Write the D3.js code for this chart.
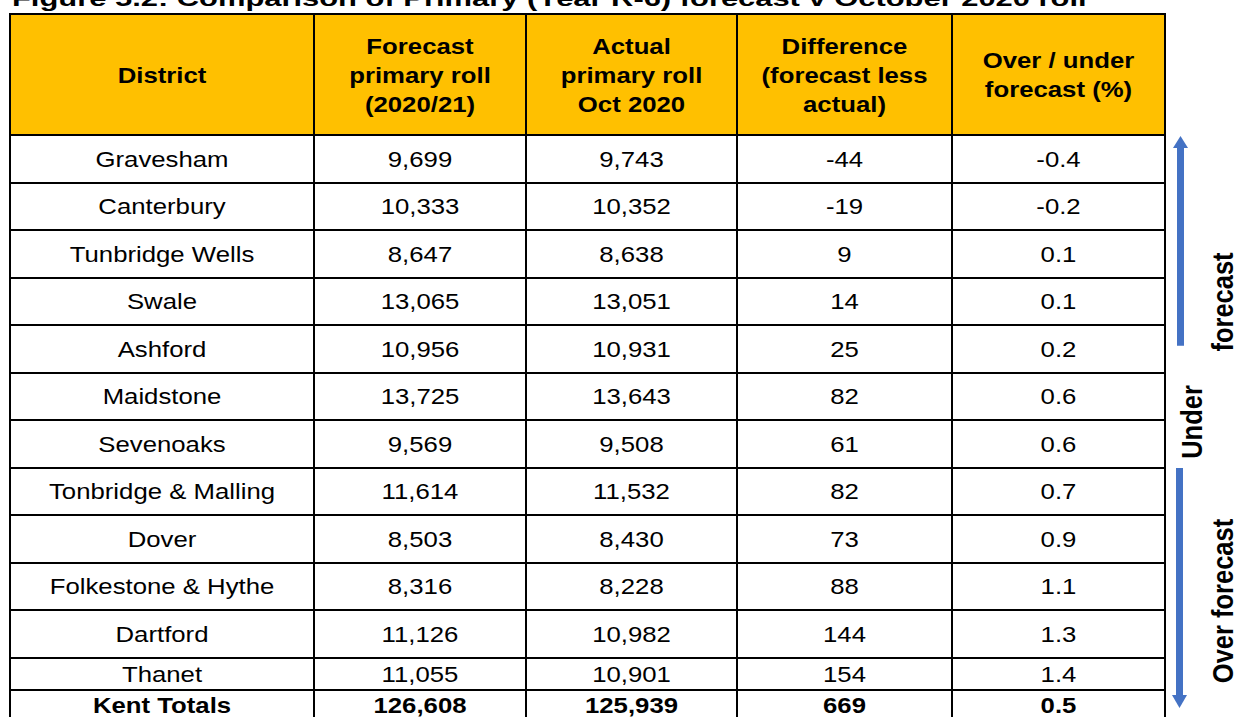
<!DOCTYPE html>
<html>
<head>
<title>Primary forecast v October 2020 roll</title>
<style>
body { margin: 0; background: #fff; }
text { font-family: "Liberation Sans", Arial, sans-serif; fill: #000; }
.grid line { stroke: #000; stroke-width: 2; shape-rendering: crispEdges; }
.head text { font-weight: bold; font-size: 22px; }
.body text { font-size: 22px; }
.body text.total { font-weight: bold; }
.side text { font-weight: bold; font-size: 25.5px; }
</style>
</head>
<body>
<script src="https://cdn.jsdelivr.net/npm/d3@7"></script>
<div id="chart"></div>
<script>
var title = "Figure 5.2: Comparison of Primary (Year R-6) forecast v October 2020 roll";
var headers = [
    ["District"],
    ["Forecast", "primary roll", "(2020/21)"],
    ["Actual", "primary roll", "Oct 2020"],
    ["Difference", "(forecast less", "actual)"],
    ["Over / under", "forecast (%)"]
];
var districts = ["Gravesham", "Canterbury", "Tunbridge Wells", "Swale", "Ashford", "Maidstone",
    "Sevenoaks", "Tonbridge & Malling", "Dover", "Folkestone & Hythe", "Dartford", "Thanet"];
var forecast = [9699, 10333, 8647, 13065, 10956, 13725, 9569, 11614, 8503, 8316, 11126, 11055];
var actual = [9743, 10352, 8638, 13051, 10931, 13643, 9508, 11532, 8430, 8228, 10982, 10901];
var difference = [-44, -19, 9, 14, 25, 82, 61, 82, 73, 88, 144, 154];
var overUnder = ["-0.4", "-0.2", "0.1", "0.1", "0.2", "0.6", "0.6", "0.7", "0.9", "1.1", "1.3", "1.4"];
var totals = ["Kent Totals", 126608, 125939, 669, "0.5"];
var sideLabels = ["forecast", "Under", "Over forecast"];

(function() {
    var W = 1239, H = 717;
    var colEdges = [10, 314, 526, 737, 952, 1165];
    var headTop = 14, headBottom = 135;
    var rowH = 47.5, thanetH = 32.5, totalH = 30;
    var sx = 1.17;  // source text is drawn wider than natural
    var fmt = d3.format(",");

    var rows = districts.map(function(d, i) {
        return [d, fmt(forecast[i]), fmt(actual[i]), String(difference[i]), overUnder[i]];
    });
    rows.push([totals[0], fmt(totals[1]), fmt(totals[2]), String(totals[3]), totals[4]]);

    // row boundaries
    var tops = [headBottom];
    rows.forEach(function(r, i) {
        var h = i < 11 ? rowH : (i === 11 ? thanetH : totalH);
        tops.push(tops[i] + h);
    });
    function rowMid(i) { return (tops[i] + tops[i + 1]) / 2; }
    var colMid = colEdges.slice(0, -1).map(function(x, i) { return (x + colEdges[i + 1]) / 2; });

    var svg = d3.select("#chart").append("svg")
        .attr("width", W).attr("height", H);

    // title
    var t = svg.append("text")
        .attr("font-weight", "bold")
        .attr("font-size", "22px")
        .text(title);
    var tw = t.node().getComputedTextLength();
    t.attr("transform", "translate(12,6) scale(" + (1075 / tw) + ",1)");

    // header fill
    svg.append("rect")
        .attr("x", colEdges[0]).attr("y", headTop)
        .attr("width", colEdges[5] - colEdges[0]).attr("height", headBottom - headTop)
        .attr("fill", "#FFC000");

    // header text
    var ghead = svg.append("g").attr("class", "head");
    headers.forEach(function(lines, c) {
        var lh = 29;
        var y0 = (headTop + headBottom) / 2 - (lines.length - 1) * lh / 2 + 8;
        lines.forEach(function(s, k) {
            ghead.append("text")
                .attr("text-anchor", "middle")
                .attr("transform", "translate(" + colMid[c] + "," + (y0 + k * lh) + ") scale(" + sx + ",1)")
                .text(s);
        });
    });

    // body
    var gbody = svg.append("g").attr("class", "body");
    rows.forEach(function(r, i) {
        r.forEach(function(s, c) {
            gbody.append("text")
                .attr("class", i === rows.length - 1 ? "total" : null)
                .attr("text-anchor", "middle")
                .attr("transform", "translate(" + colMid[c] + "," + (rowMid(i) + 8) + ") scale(" + sx + ",1)")
                .text(s);
        });
    });

    // grid
    var ggrid = svg.append("g").attr("class", "grid");
    var bottom = tops[tops.length - 1];
    colEdges.forEach(function(x) {
        ggrid.append("line").attr("x1", x).attr("x2", x).attr("y1", headTop).attr("y2", bottom);
    });
    [headTop].concat(tops).forEach(function(y) {
        ggrid.append("line").attr("x1", colEdges[0] - 1).attr("x2", colEdges[5] + 1).attr("y1", y).attr("y2", y);
    });

    // side arrows
    var blue = "#4472C4";
    var ax1 = 1180.5, ax2 = 1179.5;
    var upTip = tops[0] + 1, upEnd = rowMid(4) - 3;
    svg.append("rect").attr("x", ax1 - 3.5).attr("y", upTip + 12).attr("width", 7)
        .attr("height", upEnd - upTip - 12).attr("fill", blue);
    svg.append("path").attr("fill", blue)
        .attr("d", "M" + ax1 + "," + upTip + "L" + (ax1 + 7.5) + "," + (upTip + 12) + "L" + (ax1 - 7.5) + "," + (upTip + 12) + "Z");
    var dnStart = tops[7] + 0.5, dnTip = rowMid(12) + 3;
    svg.append("rect").attr("x", ax2 - 3.5).attr("y", dnStart).attr("width", 7)
        .attr("height", dnTip - 13 - dnStart).attr("fill", blue);
    svg.append("path").attr("fill", blue)
        .attr("d", "M" + ax2 + "," + dnTip + "L" + (ax2 + 7.5) + "," + (dnTip - 13) + "L" + (ax2 - 7.5) + "," + (dnTip - 13) + "Z");

    // side labels
    var gside = svg.append("g").attr("class", "side");
    var sidePos = [[1233, 302], [1202, 422], [1233, 601]];
    sideLabels.forEach(function(s, i) {
        gside.append("text")
            .attr("text-anchor", "middle")
            .attr("transform", "translate(" + sidePos[i][0] + "," + sidePos[i][1] + ") rotate(-90) scale(1," + sx + ")")
            .text(s);
    });
})();
</script>
</body>
</html>
